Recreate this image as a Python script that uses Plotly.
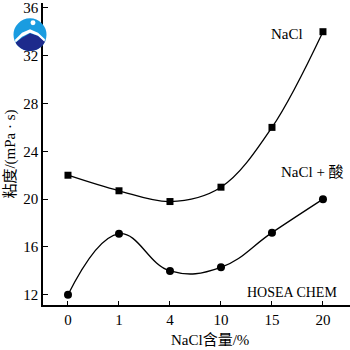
import math
import plotly.graph_objects as go

categories = ["0", "1", "4", "10", "15", "20"]
nacl = [22.0, 20.7, 19.8, 21.0, 26.0, 34.0]
nacl_acid = [12.0, 17.1, 14.0, 14.3, 17.2, 20.0]
y_ticks = [12, 16, 20, 24, 28, 32, 36]

FONT = "Times New Roman, Liberation Serif, DejaVu Serif, Noto Sans CJK SC, serif"
x_idx = list(range(len(categories)))

L, T, PW, PH = 43, 0, 307, 305


def px(x, y):
    return (x - L) / PW, (T + PH - y) / PH


fig = go.Figure()
fig.add_trace(go.Scatter(x=x_idx, y=nacl, mode="lines+markers",
                         line=dict(color="black", width=1.3, shape="spline", smoothing=1.0),
                         marker=dict(symbol="square", size=7, color="black")))
fig.add_trace(go.Scatter(x=x_idx, y=nacl_acid, mode="lines+markers",
                         line=dict(color="black", width=1.3, shape="spline", smoothing=1.2),
                         marker=dict(symbol="circle", size=8, color="black")))

fig.add_annotation(x=4.3, y=33.8, text="NaCl", showarrow=False, xanchor="center",
                   font=dict(size=15, family=FONT, color="black"))
fig.add_annotation(x=4.8, y=22.3, text="NaCl + 酸", showarrow=False, xanchor="center",
                   font=dict(size=15, family=FONT, color="black"))
fig.add_annotation(x=4.4, y=12.2, text="HOSEA CHEM", showarrow=False, xanchor="center",
                   font=dict(size=14, family=FONT, color="black"))

# x-axis title placed as annotation (offset to the right, as in the reference)
tx, ty = px(210, 340)
fig.add_annotation(xref="paper", yref="paper", x=tx, y=ty, text="NaCl含量/%",
                   showarrow=False, xanchor="center", yanchor="middle",
                   font=dict(size=15, family=FONT, color="black"))

# logo watermark (pixel geometry converted to paper coords)
cx, cy, r = 30, 32, 16.5
x0, y0 = px(cx - r, cy + r)
x1, y1 = px(cx + r, cy - r)
fig.add_shape(type="circle", xref="paper", yref="paper", x0=x0, x1=x1, y0=y0, y1=y1,
              fillcolor="#1a9ce0", line=dict(width=0), layer="above")

a_left = math.asin((40 - cy) / r)
a_right = math.asin((38 - cy) / r)
n = 24
pts = []
for i in range(n + 1):
    a = (math.pi - a_left) + ((a_right) - (math.pi - a_left)) * i / n
    pts.append((cx + r * math.cos(a), cy + r * math.sin(a)))
mount = [(44.5, 38.5), (38, 33), (30, 30.5), (22, 35), (15.8, 40)]
path = "M " + " L ".join("%.4f %.4f" % px(x, y) for x, y in pts + mount) + " Z"
fig.add_shape(type="path", xref="paper", yref="paper", path=path,
              fillcolor="#1d2a8c", line=dict(width=0), layer="above")

band = [(15, 37), (22, 30), (30, 26.5), (38, 30), (45, 36.5),
        (44.5, 39), (38, 33), (30, 30), (22, 34), (15.5, 40)]
path2 = "M " + " L ".join("%.4f %.4f" % px(x, y) for x, y in band) + " Z"
fig.add_shape(type="path", xref="paper", yref="paper", path=path2,
              fillcolor="white", line=dict(width=0), layer="above")
dx0, dy0 = px(30.5, 22.5)
dx1, dy1 = px(35.5, 17.5)
fig.add_shape(type="circle", xref="paper", yref="paper", x0=dx0, x1=dx1, y0=dy0, y1=dy1,
              fillcolor="white", line=dict(width=0), layer="above")

fig.update_layout(
    width=350, height=350,
    margin=dict(l=43, r=0, t=0, b=45),
    paper_bgcolor="white", plot_bgcolor="white",
    showlegend=False,
    font=dict(family=FONT, size=15, color="black"),
    xaxis=dict(range=[-0.49, 5.53], tickmode="array", tickvals=x_idx, ticktext=categories,
               ticks="inside", ticklen=4, tickcolor="black", showline=True, linecolor="black",
               linewidth=1.5, showgrid=False, zeroline=False),
    yaxis=dict(range=[11.15, 36.4], tickmode="array", tickvals=y_ticks,
               ticks="inside", ticklen=5, tickcolor="black", showline=True, linecolor="black",
               linewidth=1.5, showgrid=False, zeroline=False, ticklabeloverflow="allow",
               title=dict(text="粘度/(mPa · s)", font=dict(size=15, family=FONT), standoff=4)),
)

fig.write_html("out.html")
